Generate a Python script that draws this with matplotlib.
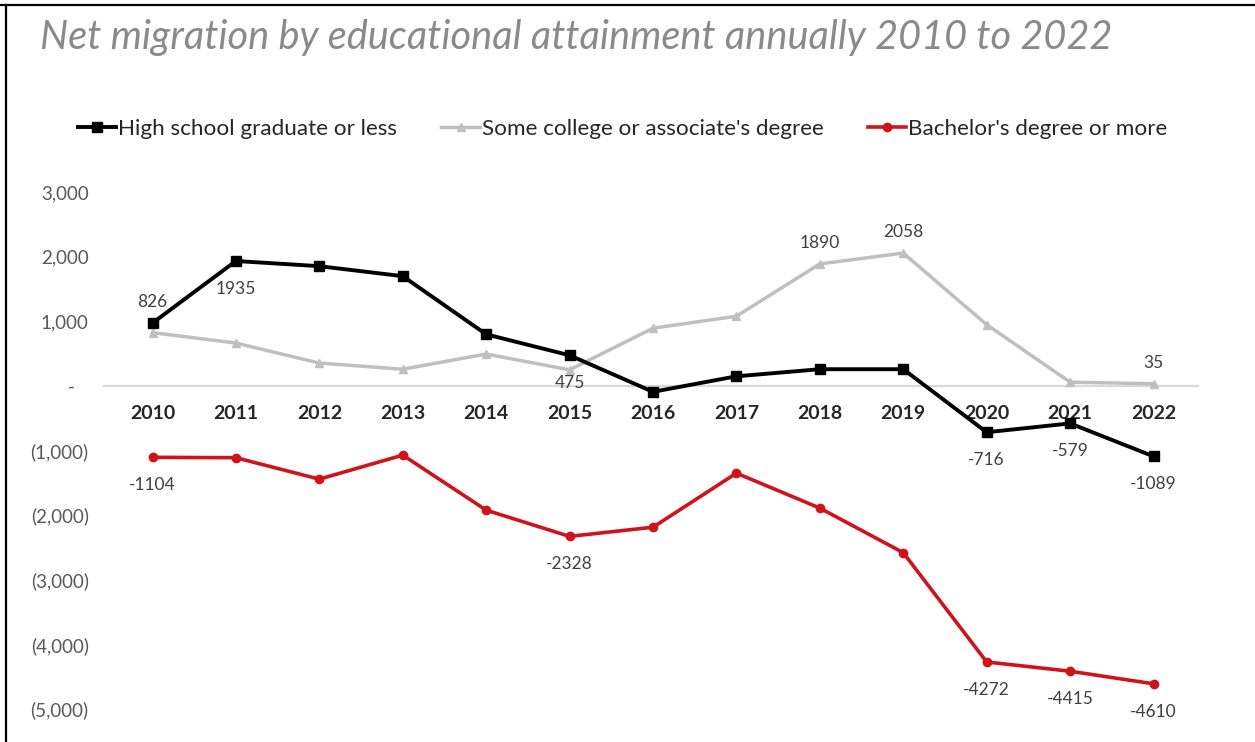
import matplotlib
matplotlib.use("Agg")
import matplotlib.pyplot as plt
from matplotlib.lines import Line2D
from matplotlib.ticker import FuncFormatter

plt.rcParams['font.family'] = ['Lato', 'DejaVu Sans']

# data
years = ['2010', '2011', '2012', '2013', '2014', '2015', '2016',
         '2017', '2018', '2019', '2020', '2021', '2022']
high_school = [975, 1935, 1855, 1700, 800, 475, -90, 150, 260, 260, -716, -579, -1089]
some_college = [826, 665, 355, 260, 495, 250, 895, 1080, 1890, 2058, 950, 60, 35]
bachelors = [-1104, -1110, -1442, -1070, -1922, -2328, -2186, -1349, -1890, -2580, -4272, -4415, -4610]

series_names = ['High school graduate or less',
                "Some college or associate's degree",
                "Bachelor's degree or more"]

# data labels shown on the chart: {year index: text}
hs_labels = {0: '826', 1: '1935', 5: '475', 10: '-716', 11: '-579', 12: '-1089'}
sc_labels = {8: '1890', 9: '2058', 12: '35'}
ba_labels = {0: '-1104', 5: '-2328', 10: '-4272', 11: '-4415', 12: '-4610'}

W, H = 1255, 742
fig = plt.figure(figsize=(W / 100, H / 100), dpi=100)
fig.patch.set_facecolor('white')

# axes placed in pixel terms: 0 at y=386, 64.6 px per 1000
ax_l, ax_r, ax_t, ax_b = 104, 1198, 175, 725
ax = fig.add_axes([ax_l / W, 1 - ax_b / H, (ax_r - ax_l) / W, (ax_b - ax_t) / H])
ppk = 64.6
ax.set_ylim(-(ax_b - 386) / ppk * 1000, (386 - ax_t) / ppk * 1000)
step = (1153.5 - 152.5) / 12
ax.set_xlim((ax_l - 152.5) / step, 12 + (ax_r - 1153.5) / step)

x = list(range(len(years)))
red = '#d0121b'
gray = '#bfbfbf'
l1, = ax.plot(x, high_school, color='black', lw=2.8, marker='s', ms=7.5, clip_on=False, zorder=4)
l2, = ax.plot(x, some_college, color=gray, lw=2.5, marker='^', ms=5.5, clip_on=False, zorder=3)
l3, = ax.plot(x, bachelors, color=red, lw=2.6, marker='o', ms=6, clip_on=False, zorder=3)

# spines / axis
for s in ['top', 'right', 'left']:
    ax.spines[s].set_visible(False)
ax.spines['bottom'].set_position(('data', 0))
ax.spines['bottom'].set_color('#d9d9d9')
ax.spines['bottom'].set_linewidth(1.6)
ax.spines['bottom'].set_zorder(1)

ax.set_xticks(x)
ax.set_xticklabels(years, fontsize=14, fontweight='bold', color='#262626')
ax.tick_params(axis='x', length=0, pad=14)

ax.set_yticks([3000, 2000, 1000, 0, -1000, -2000, -3000, -4000, -5000])


def acct(v, pos):
    if v == 0:
        return '-   '
    if v < 0:
        return '({:,.0f})'.format(-v)
    return '{:,.0f}'.format(v)


ax.yaxis.set_major_formatter(FuncFormatter(acct))
ax.tick_params(axis='y', length=0, pad=11, labelsize=13.5, labelcolor='#595959')


def put_labels(vals, labels, below):
    for i, t in labels.items():
        off = -28 if below.get(i, True) else 21
        ax.annotate(t, (i, vals[i]), xytext=(0, off / 1.3889), textcoords='offset points',
                    ha='center', va='center', fontsize=12.5, color='#404040', zorder=5)


put_labels(high_school, hs_labels, {0: False})
put_labels(some_college, sc_labels, {8: False, 9: False, 12: False})
put_labels(bachelors, ba_labels, {})

# title
fig.text(40 / W, 1 - 49 / H, 'Net migration by educational attainment annually 2010 to 2022',
         fontsize=28.6, fontstyle='italic', fontweight='normal', color='#8a8a8a',
         ha='left', va='baseline')

# legend
fig.legend([l1, l2, l3], series_names, ncol=3, frameon=False,
           loc='center left', bbox_to_anchor=(78 / W, 1 - 129 / H),
           fontsize=16.2, handlelength=1.7, handletextpad=0.1, columnspacing=1.95,
           borderpad=0, borderaxespad=0, labelcolor='#262626')

# frame lines of the screenshot
fig.add_artist(Line2D([0, 1], [1 - 5 / H, 1 - 5 / H], color='black', lw=1.6,
                      transform=fig.transFigure))
fig.add_artist(Line2D([6 / W, 6 / W], [0, 1 - 5 / H], color='black', lw=1.6,
                      transform=fig.transFigure))

fig.savefig('out.png', dpi=100, facecolor='white')
